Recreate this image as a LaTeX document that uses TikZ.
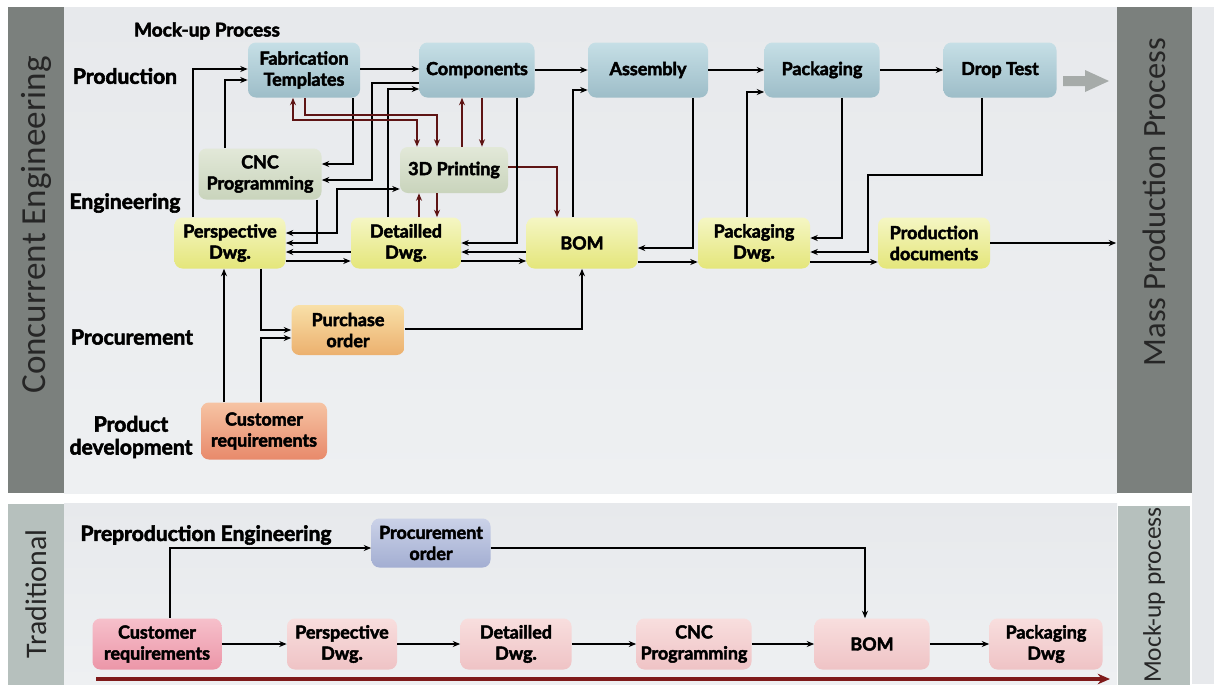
\documentclass[tikz,border=0pt]{standalone}
\usepackage{fontspec}
\setmainfont{Lato}[BoldFeatures={FakeBold=2.6}]
\newfontfamily\thinfont{Carlito}
\usetikzlibrary{arrows.meta}
\definecolor{bgpanel}{HTML}{E7E9EC}
\definecolor{bgpanelb}{HTML}{EEF0F2}
\definecolor{bardark}{HTML}{7B807D}
\definecolor{barlight}{HTML}{B6C0BD}
\definecolor{bluetop}{HTML}{C6DFE6}
\definecolor{bluebot}{HTML}{9DBDC8}
\definecolor{greentop}{HTML}{E2E8D8}
\definecolor{greenbot}{HTML}{C9D4BC}
\definecolor{yeltop}{HTML}{F5F6C4}
\definecolor{yelbot}{HTML}{E4E67A}
\definecolor{orgtop}{HTML}{F8E0A8}
\definecolor{orgbot}{HTML}{ECB06E}
\definecolor{crtop}{HTML}{F6C4A4}
\definecolor{crbot}{HTML}{E8896A}
\definecolor{pinktop}{HTML}{F8DEDE}
\definecolor{pinkbot}{HTML}{EFC3C5}
\definecolor{bpinktop}{HTML}{F6C0CB}
\definecolor{bpinkbot}{HTML}{EC96A8}
\definecolor{liltop}{HTML}{CBD2E8}
\definecolor{lilbot}{HTML}{A3AED2}
\definecolor{darkred}{HTML}{5E1414}
\definecolor{arrowred}{HTML}{7F1A1A}
\definecolor{bigarrow}{HTML}{A6ABA9}
\begin{document}
\begin{tikzpicture}[x=0.02cm,y=-0.02cm,
  sz/.style 2 args={minimum width=#1*0.02cm, minimum height=#2*0.02cm},
  box/.style={rounded corners=4.5pt, align=center, inner sep=1pt,
    font=\fontsize{10.2}{12}\selectfont\bfseries},
  bluebox/.style={box, top color=bluetop, bottom color=bluebot},
  greenbox/.style={box, top color=greentop, bottom color=greenbot},
  yelbox/.style={box, top color=yeltop, bottom color=yelbot},
  orgbox/.style={box, top color=orgtop, bottom color=orgbot},
  crbox/.style={box, top color=crtop, bottom color=crbot},
  pinkbox/.style={box, top color=pinktop, bottom color=pinkbot},
  bpinkbox/.style={box, top color=bpinktop, bottom color=bpinkbot},
  lilbox/.style={box, top color=liltop, bottom color=lilbot},
  lbl/.style={align=center, font=\fontsize{12}{13}\selectfont\bfseries},
  barlbl/.style={rotate=90, text=black!85, font=\thinfont},
  arr/.style={draw=black, line width=0.75pt, -{Stealth[length=4.2pt,width=3.4pt]}},
  arrb/.style={draw=black, line width=0.75pt, {Stealth[length=4.2pt,width=3.4pt]}-{Stealth[length=4.2pt,width=3.4pt]}},
  rarr/.style={arr, draw=darkred},
  rarrb/.style={arrb, draw=darkred},
]
\useasboundingbox (0,0) rectangle (1214,684);
\fill[white] (0,0) rectangle (1214,684);
% panels
\fill[top color=bgpanel, bottom color=bgpanelb] (64,7) rectangle (1117,493);
\fill[top color=bgpanel, bottom color=bgpanelb] (64,503) rectangle (1117,684);
\fill[bgpanel] (1192,7) rectangle (1214,684);
\node[fill=bardark, sz={56}{486}, inner sep=0pt] (cebar) at (36,250) {};
\node[fill=barlight, sz={56}{181}, inner sep=0pt] (tradbar) at (36,594) {};
\node[fill=bardark, sz={75}{486}, inner sep=0pt] (mpbar) at (1154,250) {};
\node[fill=barlight, sz={72}{179}, inner sep=0pt] (mubar) at (1154,595) {};
\node[barlbl, font=\thinfont\fontsize{20}{20}\selectfont] at (36,225) {Concurrent Engineering};
\node[barlbl, font=\thinfont\fontsize{17}{17}\selectfont] at (tradbar) {Traditional};
\node[barlbl, font=\thinfont\fontsize{18.5}{18.5}\selectfont] at (1154,202) {Mass Production Process};
\node[barlbl, font=\thinfont\fontsize{14.5}{14.5}\selectfont] at (mubar) {Mock-up process};

% labels
\node[lbl, font=\fontsize{10.8}{12}\selectfont\bfseries] (lmock) at (207,31) {Mock-up Process};
\node[lbl] (lprod) at (125,76) {Production};
\node[lbl] (leng) at (125,203) {Engineering};
\node[lbl] (lproc) at (132,337) {Procurement};
\node[lbl] (ldev) at (131,437) {Product\\development};
\node[lbl] (lpre) at (206,535) {Preproduction Engineering};

% top boxes
\node[bluebox, sz={112}{55}] (fab) at (304,70) {Fabrication\\Templates};
\node[bluebox, sz={115}{55}] (comp) at (477,70) {Components};
\node[bluebox, sz={120}{55}] (asm) at (648,70) {Assembly};
\node[bluebox, sz={115}{55}] (pack) at (822,70) {Packaging};
\node[bluebox, sz={113}{55}] (drop) at (1000,70) {Drop Test};
\node[greenbox, sz={123}{51}] (cnc) at (260,174) {CNC\\Programming};
\node[greenbox, sz={108}{46}] (print) at (454,170) {3D Printing};
\node[yelbox, sz={111}{51}] (persp) at (230,243) {Perspective\\Dwg.};
\node[yelbox, sz={110}{51}] (det) at (406,243) {Detailled\\Dwg.};
\node[yelbox, sz={111}{51}] (bom) at (582,243) {BOM};
\node[yelbox, sz={112}{51}] (pdwg) at (754,243) {Packaging\\Dwg.};
\node[yelbox, sz={112}{51}] (pdoc) at (934,243) {Production\\documents};
\node[orgbox, sz={113}{50}] (po) at (348,330) {Purchase\\order};
\node[crbox, sz={126}{57}] (cr) at (264,431) {Customer\\requirements};

% big grey arrow
\fill[bigarrow] (1063,76) -- (1085,76) -- (1085,70) -- (1109,81) -- (1085,92) -- (1085,86) -- (1063,86) -- cycle;

% top connectors
\draw[arr] (persp.north -| 193,0) |- (fab.west |- 0,69);
\draw[arr] (cnc.north -| 225,0) |- (fab.west |- 0,80);
\draw[arr] (fab.east |- 0,69) -- (comp.west |- 0,69);
\draw[arr] (fab.south -| 353,0) |- (cnc.east |- 0,164);
\draw[arr] (comp.west |- 0,83) -| (372,180) -- (cnc.east |- 0,180);
\draw[arr] (det.north -| 388,0) |- (comp.west |- 0,89);
\draw[arrb] (persp.east |- 0,233) -| (337,189) -- (print.west |- 0,189);
\draw[arr] (cnc.south -| 317,0) |- (persp.east |- 0,243);
\draw[arr] (det.west |- 0,252) -- (persp.east |- 0,252);
\draw[arr] (persp.east |- 0,261) -- (det.west |- 0,261);
\draw[rarr] (fab.south -| 305,0) |- (437,115) -- (print.north -| 437,0);
\draw[rarrb] (fab.south -| 293,0) |- (417,120) -- (print.north -| 417,0);
\draw[rarr] (print.north -| 462,0) -- (comp.south -| 462,0);
\draw[rarr] (comp.south -| 482,0) -- (print.north -| 482,0);
\draw[rarr] (print.east |- 0,167) -| (bom.north -| 557,0);
\draw[rarr] (det.north -| 419,0) -- (print.south -| 419,0);
\draw[rarr] (print.south -| 437,0) -- (det.north -| 437,0);
\draw[arr] (comp.south -| 517,0) |- (det.east |- 0,243);
\draw[arr] (bom.west |- 0,252) -- (det.east |- 0,252);
\draw[arr] (det.east |- 0,261) -- (bom.west |- 0,261);
\draw[arr] (comp.east |- 0,70) -- (asm.west |- 0,70);
\draw[arr] (bom.north -| 573,0) |- (asm.west |- 0,90);
\draw[arr] (asm.south -| 693,0) |- (bom.east |- 0,248);
\draw[arr] (bom.east |- 0,262) -- (pdwg.west |- 0,262);
\draw[arr] (pdwg.north -| 747,0) |- (pack.west |- 0,92);
\draw[arr] (asm.east |- 0,70) -- (pack.west |- 0,70);
\draw[arr] (pack.east |- 0,70) -- (drop.west |- 0,70);
\draw[arr] (pack.south -| 842,0) |- (pdwg.east |- 0,238);
\draw[arr] (drop.south -| 982,0) |- (868,175) |- (pdwg.east |- 0,252);
\draw[arr] (pdwg.east |- 0,262) -- (pdoc.west |- 0,262);
\draw[arr] (pdoc.east |- 0,243) -- (mpbar.west |- 0,243);
\draw[arr] (cr.north -| 224,0) -- (persp.south -| 224,0);
\draw[arr] (persp.south -| 261,0) |- (po.west |- 0,330);
\draw[arr] (cr.north -| 261,0) |- (po.west |- 0,338);
\draw[arr] (po.east |- 0,329) -| (bom.south -| 582,0);

% bottom boxes
\node[lilbox, sz={119}{49}] (proc) at (431,543) {Procurement\\order};
\node[bpinkbox, sz={129}{51}] (bcr) at (157,644) {Customer\\requirements};
\node[pinkbox, sz={110}{51}] (bpersp) at (342,644) {Perspective\\Dwg.};
\node[pinkbox, sz={111}{51}] (bdet) at (516,644) {Detailled\\Dwg.};
\node[pinkbox, sz={115}{51}] (bcnc) at (694,644) {CNC\\Programming};
\node[pinkbox, sz={115}{51}] (bbom) at (872,644) {BOM};
\node[pinkbox, sz={113}{51}] (bpack) at (1046,644) {Packaging\\Dwg};

\draw[arr] (bcr.north -| 170,0) |- (proc.west |- 0,548);
\draw[arr] (proc.east |- 0,548) -| (bbom.north -| 865,0);
\draw[arr] (bcr) -- (bpersp);
\draw[arr] (bpersp) -- (bdet);
\draw[arr] (bdet) -- (bcnc);
\draw[arr] (bcnc) -- (bbom);
\draw[arr] (bbom) -- (bpack);
\coordinate (rl0) at (96,679);
\coordinate (rl1) at (1110,679);
\draw[draw=arrowred, line width=1.8pt, -{Stealth[length=7pt,width=6pt]}] (rl0) -- (rl1);
\end{tikzpicture}
\end{document}
